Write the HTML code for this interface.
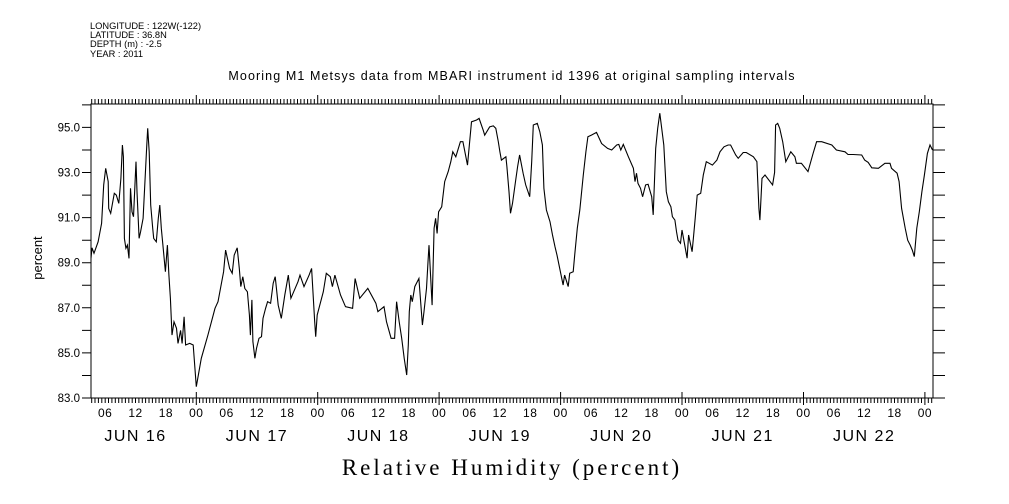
<!DOCTYPE html>
<html><head><meta charset="utf-8"><style>
body{margin:0;background:#fff;}
svg{display:block;font-family:"Liberation Sans",sans-serif;}
</style></head><body>
<svg id="chart" width="1009" height="504" viewBox="0 0 1009 504">
<g font-size="9.3" fill="#000">
<text x="90" y="29">LONGITUDE : 122W(-122)</text>
<text x="90" y="38">LATITUDE : 36.8N</text>
<text x="90" y="47">DEPTH (m) : -2.5</text>
<text x="90" y="57">YEAR : 2011</text>
</g>
<text x="512" y="80" font-size="12.5" text-anchor="middle" letter-spacing="1.1">Mooring M1 Metsys data from MBARI instrument id 1396 at original sampling intervals</text>
<text transform="translate(42,258) rotate(-90)" font-size="13" text-anchor="middle">percent</text>
<text x="512" y="475" font-family="Liberation Serif, serif" font-size="23" text-anchor="middle" letter-spacing="3">Relative Humidity (percent)</text>
<rect x="91" y="104" width="842" height="294" fill="none" stroke="#000" stroke-width="1"/>
<g id="axes"></g>
<path id="series" fill="none" stroke="#000" stroke-width="1.1"/>
</svg>
<script>
const hours=[3.2,3.4,3.8,4.6,5.3,5.7,6.1,6.6,6.7,7.1,7.8,8.2,8.7,9.1,9.4,9.6,9.8,10.1,10.4,10.7,11.0,11.3,11.6,12.1,12.3,12.7,13.0,13.5,14.2,14.4,14.7,15.0,15.4,15.6,16.1,16.5,16.8,17.1,17.4,17.9,18.3,18.6,18.9,19.2,19.6,20.1,20.4,20.9,21.2,21.6,21.9,22.7,23.4,24.0,25.0,26.3,27.7,28.3,29.4,29.8,30.6,31.1,31.5,32.1,32.5,32.8,33.2,33.6,34.1,34.5,34.7,35.0,35.2,35.6,35.9,36.4,36.9,37.2,37.7,38.1,38.7,39.2,39.6,40.2,40.8,41.5,42.2,42.7,44.1,44.5,45.3,46.3,46.8,47.4,47.6,47.9,49.1,49.7,50.5,50.9,51.4,52.5,53.5,54.9,55.4,56.3,57.9,59.5,59.9,61.1,61.6,62.5,63.2,63.6,64.1,64.6,65.1,65.6,65.9,66.1,66.4,66.7,67.2,68.0,68.7,69.0,69.5,69.8,70.0,70.6,71.0,71.3,71.6,71.9,72.5,73.1,73.8,74.3,74.7,75.3,76.2,76.7,77.6,78.4,79.4,79.9,80.7,81.0,82.0,82.7,83.2,83.7,84.0,84.3,85.2,85.4,85.8,86.1,86.5,87.1,87.5,87.9,88.6,89.1,89.9,90.3,90.6,91.4,91.9,92.4,92.7,93.2,93.9,94.4,94.9,95.3,96.5,96.8,97.5,97.8,98.5,98.8,99.3,99.8,100.5,101.0,101.4,102.1,103.1,104.1,105.3,106.1,107.1,107.5,107.9,108.4,109.4,110.4,110.7,111.0,111.3,111.8,112.2,112.8,113.3,114.0,114.3,114.8,115.2,115.6,116.4,116.9,117.3,117.8,118.1,118.6,118.9,119.2,119.7,120.0,121.0,121.3,122.0,122.2,122.6,123.0,123.7,124.2,124.8,126.0,126.9,127.5,128.3,129.1,129.6,130.6,131.1,132.1,132.7,134.1,134.8,135.2,135.4,135.8,136.4,137.9,138.3,138.5,138.9,139.3,139.9,140.5,141.5,142.3,142.6,143.6,144.9,145.9,146.6,147.6,149.6,150.5,152.2,152.8,153.8,155.5,156.1,156.8,157.5,158.8,160.1,161.1,161.4,162.5,162.9,163.4,164.1,164.6,165.1,165.5,165.9,166.4,166.9,167.4,167.9,168.5,169.0,169.5];
const humidity=[89.2,89.66,89.42,89.93,90.75,92.45,93.19,92.6,91.41,91.19,92.08,92.0,91.63,92.74,94.22,93.7,90.08,89.64,89.78,89.19,92.3,91.26,91.04,93.48,92.15,90.08,90.38,90.97,94.14,94.96,93.92,91.56,90.53,90.08,89.93,90.97,91.56,90.53,89.78,88.6,89.78,88.45,87.42,85.79,86.38,86.09,85.42,86.0,85.42,86.6,85.35,85.42,85.35,83.5,84.76,85.79,86.98,87.27,88.6,89.56,88.75,88.53,89.34,89.66,88.75,87.94,88.38,87.86,87.71,86.68,85.79,87.35,85.5,84.76,85.2,85.65,85.72,86.53,86.98,87.27,87.2,88.09,88.38,87.12,86.53,87.57,88.45,87.42,88.16,88.45,87.94,88.45,88.75,86.38,85.72,86.68,87.71,88.53,88.38,87.94,88.45,87.57,87.05,86.98,88.3,87.42,87.86,87.2,86.83,87.05,86.38,85.65,85.65,87.27,86.38,85.65,84.76,84.02,85.35,86.83,87.57,87.27,87.94,88.3,86.24,86.83,87.86,89.04,89.78,87.12,90.53,90.97,90.3,91.26,91.48,92.6,93.04,93.48,93.92,93.7,94.37,94.37,93.33,95.25,95.33,95.4,94.88,94.66,95.03,95.07,94.96,94.37,93.92,93.55,93.7,93.26,92.15,91.19,91.63,92.6,93.26,93.78,92.97,92.45,91.93,93.48,95.11,95.18,94.81,94.22,92.3,91.34,90.82,90.23,89.71,89.34,88.01,88.45,87.94,88.53,88.6,89.34,90.53,91.34,92.89,93.92,94.59,94.66,94.78,94.29,94.07,94.0,94.22,94.25,94.0,94.25,93.7,93.19,92.6,92.97,92.52,92.3,91.93,92.45,92.48,91.93,91.12,94.07,94.96,95.63,94.22,92.15,91.7,91.48,91.04,90.89,90.38,90.0,89.86,90.45,89.2,90.23,89.49,90.0,90.97,92.0,92.08,92.89,93.48,93.33,93.55,93.92,94.14,94.22,94.22,93.78,93.63,93.89,93.89,93.7,93.48,91.41,90.89,92.74,92.89,92.45,93.0,95.11,95.18,94.96,94.37,93.48,93.92,93.7,93.41,93.41,93.04,93.85,94.37,94.37,94.22,94.0,93.92,93.8,93.8,93.78,93.55,93.45,93.21,93.19,93.41,93.41,93.19,92.97,92.6,91.41,90.53,90.0,89.78,89.56,89.27,90.53,91.26,92.15,92.89,93.85,94.22,94.0];
const yTickValues=[83,85,87,89,91,93,95];
const hourLabels=["06","12","18","00"];
const dayLabels=["JUN 16","JUN 17","JUN 18","JUN 19","JUN 20","JUN 21","JUN 22"];

const X0=91,X1=933,Y0=398,Y1=104;
const H0=3.2,H1=169.6,V0=83,V1=96.04;
function xs(h){return X0+(h-H0)/(H1-H0)*(X1-X0);}
function ys(v){return Y0-(v-V0)/(V1-V0)*(Y0-Y1);}
const NS="http://www.w3.org/2000/svg";
const ax=document.getElementById('axes');
function mk(tag,attrs,parent){const e=document.createElementNS(NS,tag);for(const k in attrs)e.setAttribute(k,attrs[k]);(parent||ax).appendChild(e);return e;}
let d="";
hours.forEach((h,i)=>{d+=(i?"L":"M")+xs(h).toFixed(1)+","+ys(humidity[i]).toFixed(1);});
document.getElementById('series').setAttribute('d',d);
let tp="";
for(let h=0;h<=H1;h+=24/36){const x=xs(h);if(x<X0-0.1||x>X1+0.1)continue;tp+=`M${x.toFixed(1)},${Y0}v5M${x.toFixed(1)},${Y1}v-5`;}
for(let day=0;day<=7;day++){const x=xs(day*24);if(x<X0||x>X1)continue;tp+=`M${x.toFixed(1)},${Y0-6}v13M${x.toFixed(1)},${Y1}v-9`;}
for(let v=83;v<=96;v++){const y=ys(v).toFixed(1);tp+=`M${X0-9},${y}h9M${X1},${y}h12`;}
const tk=mk('path',{d:tp,stroke:'#000','stroke-width':1,fill:'none'});


yTickValues.forEach(v=>{
 const t=mk('text',{x:80,y:ys(v)+4,'font-size':11.5,'text-anchor':'end'});
 
 
 t.textContent=v.toFixed(1);
});
for(let day=0;day<7;day++){
 hourLabels.forEach((lab,j)=>{
  const h=day*24+6*(j+1);const x=xs(h);if(x<X0||x>X1+2)return;
  const t=mk('text',{x:x,y:417,'font-size':12,'text-anchor':'middle','letter-spacing':'0.5'});
  
  
  t.textContent=lab;
 });
 const t=mk('text',{x:xs(day*24+12),y:441,'font-size':16,'text-anchor':'middle','letter-spacing':'1.5'});
 
 
 t.textContent=dayLabels[day];
}
</script>
</body></html>
